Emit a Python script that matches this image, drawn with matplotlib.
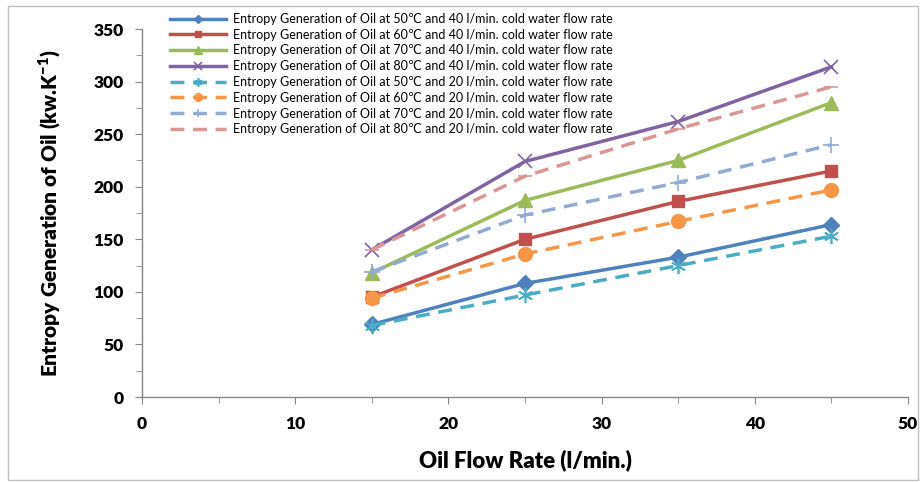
import matplotlib
matplotlib.use("Agg")
import matplotlib.pyplot as plt
from matplotlib.patches import Rectangle
from matplotlib.ticker import MultipleLocator

plt.rcParams['font.family'] = ['Lato', 'DejaVu Sans']

# Data
flow_rate = [15, 25, 35, 45]
oil_50_40 = [69, 108, 133, 164]
oil_60_40 = [95, 150, 186, 215]
oil_70_40 = [118, 187, 225, 280]
oil_80_40 = [140, 224, 262, 314]
oil_50_20 = [68, 97, 125, 153]
oil_60_20 = [94, 136, 167, 197]
oil_70_20 = [119, 173, 204, 240]
oil_80_20 = [140, 210, 255, 295]

labels = [
    "Entropy Generation of Oil at 50\u2103 and 40 l/min. cold water flow rate",
    "Entropy Generation of Oil at 60\u2103 and 40 l/min. cold water flow rate",
    "Entropy Generation of Oil at 70\u2103 and 40 l/min. cold water flow rate",
    "Entropy Generation of Oil at 80\u2103 and 40 l/min. cold water flow rate",
    "Entropy Generation of Oil at 50\u2103 and 20 l/min. cold water flow rate",
    "Entropy Generation of Oil at 60\u2103 and 20 l/min. cold water flow rate",
    "Entropy Generation of Oil at 70\u2103 and 20 l/min. cold water flow rate",
    "Entropy Generation of Oil at 80\u2103 and 20 l/min. cold water flow rate",
]

series = [oil_50_40, oil_60_40, oil_70_40, oil_80_40,
          oil_50_20, oil_60_20, oil_70_20, oil_80_20]
colors = ['#4F81BD', '#C0504D', '#9BBB59', '#8064A2',
          '#4BACC6', '#F79646', '#93AAD2', '#D99694']
markers = ['D', 's', '^', 'x', (6, 2, 0), 'o', '+', '_']
msizes = [8, 9, 10, 10, 11, 10, 11, 10]
styles = ['-', '-', '-', '-', '--', '--', '--', '--']

fig = plt.figure(figsize=(9.22, 4.82), dpi=100)
ax = fig.add_axes([142/922, 1-397/482, 766/922, 368/482])

for vals, lab, c, m, ms, ls in zip(series, labels, colors, markers, msizes, styles):
    ax.plot(flow_rate, vals, linestyle=ls, color=c, linewidth=2.5,
            marker=m, markersize=ms, markeredgewidth=1.2 if m in ('x', '+', '_', (6, 2, 0)) else 1,
            label=lab, dashes=(4, 2.5) if ls == '--' else (None, None))

ax.set_xlim(0, 50)
ax.set_ylim(0, 350)
ax.xaxis.set_major_locator(MultipleLocator(10))
ax.xaxis.set_minor_locator(MultipleLocator(5))
ax.yaxis.set_major_locator(MultipleLocator(50))
ax.yaxis.set_minor_locator(MultipleLocator(25))

for s in ['top', 'right']:
    ax.spines[s].set_visible(False)
for s in ['left', 'bottom']:
    ax.spines[s].set_color('#868686')
    ax.spines[s].set_linewidth(1)
ax.tick_params(which='both', direction='out', color='#868686')
ax.tick_params(which='major', length=5, labelsize=12.5)
ax.tick_params(axis='x', which='major', pad=9)
ax.tick_params(axis='y', which='major', pad=8)
ax.tick_params(which='minor', length=4)
for t in ax.get_xticklabels() + ax.get_yticklabels():
    t.set_fontweight('heavy')

ax.set_xlabel("Oil Flow Rate (l/min.)", fontsize=16, fontweight='heavy', labelpad=12)
ax.set_ylabel("Entropy Generation of Oil (kw.K$^{\\mathregular{-1}}$)", fontsize=15,
              fontweight='heavy', labelpad=22)

ax.legend(loc='upper left', bbox_to_anchor=(170/922, 1-13/482), bbox_transform=fig.transFigure,
          frameon=False, fontsize=9, handlelength=4.5, labelspacing=0.3,
          borderaxespad=0, borderpad=0, handletextpad=0.5, markerscale=0.55)

fig.patches.append(Rectangle((8/922, 2/482), 910/922, 474/482, transform=fig.transFigure,
                             fill=False, edgecolor='#BFBFBF', linewidth=1))

fig.savefig("out.png", dpi=100)
